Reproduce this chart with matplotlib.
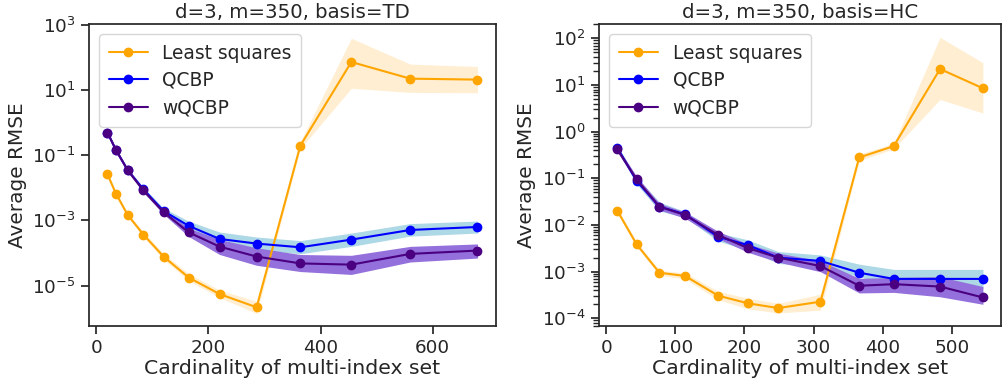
import numpy as np
import matplotlib
matplotlib.use("Agg")
from matplotlib import pyplot as plt
from matplotlib.ticker import NullFormatter
import seaborn as sns

# ---- left panel: total degree basis
x_td = [20, 35, 56, 84, 120, 165, 220, 286, 364, 455, 560, 680]
ls_td = [0.026, 0.0067, 0.00148, 3.7e-4, 7.8e-5, 1.76e-5, 5.5e-6, 2.16e-6, 0.198, 73, 22.5, 21]
ls_td_lo = [0.022, 0.0058, 0.00128, 3.1e-4, 6.4e-5, 1.4e-5, 4.3e-6, 1.4e-6, 0.16, 11.4, 8.5, 8.3]
ls_td_hi = [0.031, 0.0078, 0.00172, 4.5e-4, 9.6e-5, 2.3e-5, 7.3e-6, 3.3e-6, 0.26, 390, 63, 53]
qcbp_td = [0.50, 0.146, 0.035, 0.0091, 0.00195, 6.8e-4, 2.7e-4, 1.95e-4, 1.5e-4, 2.58e-4, 5.1e-4, 6.3e-4]
qcbp_td_lo = [0.45, 0.13, 0.031, 0.0080, 0.00165, 5.0e-4, 1.7e-4, 1.25e-4, 0.95e-4, 1.6e-4, 3.3e-4, 4.1e-4]
qcbp_td_hi = [0.56, 0.165, 0.040, 0.0104, 0.0024, 9.5e-4, 4.4e-4, 3.1e-4, 2.4e-4, 4.1e-4, 8.0e-4, 9.6e-4]
wqcbp_td = [0.50, 0.146, 0.035, 0.0083, 0.0018, 4.3e-4, 1.57e-4, 7.8e-5, 4.8e-5, 4.4e-5, 9.4e-5, 1.19e-4]
wqcbp_td_lo = [0.45, 0.13, 0.031, 0.0073, 0.00155, 3.2e-4, 0.9e-4, 4.2e-5, 2.7e-5, 2.2e-5, 5.3e-5, 7.0e-5]
wqcbp_td_hi = [0.56, 0.165, 0.040, 0.0095, 0.0021, 5.8e-4, 2.6e-4, 1.45e-4, 9.0e-5, 8.5e-5, 1.6e-4, 1.9e-4]

# ---- right panel: hyperbolic cross basis
x_hc = [16, 44, 77, 114, 162, 205, 249, 310, 366, 416, 483, 545]
ls_hc = [0.0203, 0.00385, 9.5e-4, 8.1e-4, 3.06e-4, 2.1e-4, 1.66e-4, 2.28e-4, 0.28, 0.49, 22, 8.5]
ls_hc_lo = [0.018, 0.0034, 8.4e-4, 7.0e-4, 2.5e-4, 1.6e-4, 1.3e-4, 1.5e-4, 0.24, 0.43, 4.9, 2.5]
ls_hc_hi = [0.023, 0.0044, 1.07e-3, 9.4e-4, 3.8e-4, 2.7e-4, 2.1e-4, 3.3e-4, 0.33, 0.56, 105, 30]
qcbp_hc = [0.454, 0.088, 0.0247, 0.0169, 0.0056, 0.0037, 0.0020, 0.0017, 9.5e-4, 7.0e-4, 7.0e-4, 7.0e-4]
qcbp_hc_lo = [0.40, 0.075, 0.020, 0.0145, 0.0045, 0.0029, 0.0015, 0.00128, 7.8e-4, 4.8e-4, 4.5e-4, 4.4e-4]
qcbp_hc_hi = [0.51, 0.105, 0.031, 0.0195, 0.0068, 0.0048, 0.0027, 0.00228, 1.45e-3, 1.12e-3, 1.12e-3, 1.12e-3]
wqcbp_hc = [0.418, 0.095, 0.0247, 0.0164, 0.0061, 0.0032, 0.0020, 0.00132, 5.0e-4, 5.4e-4, 4.8e-4, 2.8e-4]
wqcbp_hc_lo = [0.37, 0.082, 0.021, 0.014, 0.0051, 0.0026, 0.0016, 0.0010, 3.5e-4, 3.6e-4, 2.9e-4, 2.0e-4]
wqcbp_hc_hi = [0.47, 0.11, 0.029, 0.019, 0.0073, 0.0039, 0.0025, 0.0017, 7.2e-4, 7.5e-4, 7.8e-4, 4.8e-4]

sns.set_theme(style="ticks")
plt.rcParams["font.family"] = ["DejaVu Sans"]

fig = plt.figure(figsize=(10.03, 3.9), dpi=100)
ax1 = fig.add_axes([0.0887, 0.1641, 0.4058, 0.7744])
ax2 = fig.add_axes([0.5972, 0.1641, 0.4010, 0.7744])

def panel(ax, x, series, title, ylim):
    for (lbl, y, lo, hi, c, fc, a) in series:
        ax.fill_between(x, lo, hi, color=fc, alpha=a, linewidth=0)
        ax.plot(x, y, "-o", color=c, label=lbl, markersize=6, linewidth=1.5)
    ax.set_yscale("log")
    ax.set_ylim(*ylim)
    ax.yaxis.set_minor_formatter(NullFormatter())
    ax.set_title(title, fontsize=14.2, pad=4)
    ax.set_xlabel("Cardinality of multi-index set", fontsize=14.7, labelpad=1)
    ax.set_ylabel("Average RMSE", fontsize=14.4)
    ax.tick_params(labelsize=13.2)
    ax.legend(loc="upper left", fontsize=13.4, labelspacing=0.45,
              borderpad=0.5, handlelength=2.1, borderaxespad=0.55)

panel(ax1, x_td, [
    ("Least squares", ls_td, ls_td_lo, ls_td_hi, "orange", "orange", 0.18),
    ("QCBP", qcbp_td, qcbp_td_lo, qcbp_td_hi, "blue", "lightblue", 1.0),
    ("wQCBP", wqcbp_td, wqcbp_td_lo, wqcbp_td_hi, "indigo", "mediumpurple", 1.0),
], "d=3, m=350, basis=TD", (10**-6.24, 10**3.03))

panel(ax2, x_hc, [
    ("Least squares", ls_hc, ls_hc_lo, ls_hc_hi, "orange", "orange", 0.18),
    ("QCBP", qcbp_hc, qcbp_hc_lo, qcbp_hc_hi, "blue", "lightblue", 1.0),
    ("wQCBP", wqcbp_hc, wqcbp_hc_lo, wqcbp_hc_hi, "indigo", "mediumpurple", 1.0),
], "d=3, m=350, basis=HC", (10**-4.164, 10**2.307))

fig.savefig("out.png", dpi=100)
